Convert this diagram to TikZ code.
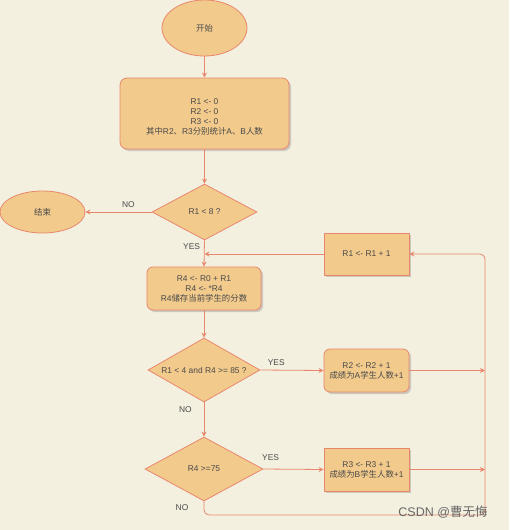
\documentclass[tikz,border=0pt]{standalone}
\usepackage{fontspec}
\setmainfont{Liberation Sans}
\newfontfamily\cjk{Noto Sans CJK SC}
\newcommand{\zh}[1]{{\cjk #1}}
\usetikzlibrary{shapes.geometric,shadows,arrows.meta}
\definecolor{bg}{HTML}{F4F0E0}
\definecolor{fl}{HTML}{F2CA8C}
\definecolor{ln}{HTML}{E8876E}
\definecolor{tx}{HTML}{4A4A4A}
\tikzset{
  base/.style={draw=ln, fill=fl, line width=0.8pt, text=tx, font=\fontsize{8.4}{10}\selectfont, align=center, inner sep=0pt},
  oval/.style={base, ellipse},
  rbox/.style={base, rectangle, rounded corners=7pt, drop shadow={shadow xshift=2pt, shadow yshift=-2pt, opacity=0.35, fill=gray}},
  sbox/.style={base, rectangle, drop shadow={shadow xshift=2pt, shadow yshift=-2pt, opacity=0.35, fill=gray}},
  dia/.style={base, diamond},
  arr/.style={draw=ln, line width=0.8pt, -{Stealth[length=5pt,width=5pt]}},
  lab/.style={text=tx, font=\fontsize{8.4}{10}\selectfont, inner sep=0pt},
}
\begin{document}
\begin{tikzpicture}[x=1pt,y=-1pt]
\fill[bg] (0,0) rectangle (509,530);
\useasboundingbox (0,0) rectangle (509,530);

\node[oval, minimum width=85pt, minimum height=56pt] (start) at (204.5,28) {\zh{开始}};
\node[rbox, minimum width=169pt, minimum height=71pt] (init) at (204.5,113.5) {\\[2pt]R1 <- 0\\R2 <- 0\\R3 <- 0\\\zh{其中}R2\zh{、}R3\zh{分别统计}A\zh{、}B\zh{人数}};
\node[dia, minimum width=105pt, minimum height=56pt, label={[lab]center:R1 < 8 ?}] (d1) at (204.5,212) {};
\node[oval, minimum width=85pt, minimum height=42pt] (end) at (42.5,212) {\zh{结束}};
\node[rbox, rounded corners=6pt, minimum width=114pt, minimum height=43pt] (load) at (204,288.5) {R4 <- R0 + R1\\R4 <- *R4\\R4\zh{储存当前学生的分数}};
\node[sbox, minimum width=85pt, minimum height=42pt] (inc1) at (366.5,254) {R1 <- R1 + 1};
\node[dia, minimum width=112pt, minimum height=64pt, label={[lab]center:R1 < 4 and R4 >= 85 ?}] (d2) at (204,370) {};
\node[rbox, rounded corners=6pt, minimum width=85pt, minimum height=43pt] (inc2) at (366.5,370.5) {R2 <- R2 + 1\\\zh{成绩为}A\zh{学生人数}+1};
\node[dia, minimum width=118pt, minimum height=64pt, label={[lab]center:R4 >=75}] (d3) at (204,469) {};
\node[sbox, minimum width=85pt, minimum height=43pt] (inc3) at (366.5,469.5) {R3 <- R3 + 1\\\zh{成绩为}B\zh{学生人数}+1};

\coordinate (railtop) at (485,254);
\coordinate (railbot) at (485,515);

\draw[arr] (start) -- (init);
\draw[arr] (init) -- (d1);
\draw[arr] (d1.west) -- (end.east) node[lab, pos=0.35, above=4pt] {NO};
\draw[arr] (d1.south) -- (load.north) node[lab, pos=0.25, left=4pt] {YES};
\draw[arr] (inc1.west) -- (inc1.west -| d1.south);
\draw[arr] (load.south) -- (d2.north);
\draw[arr] (d2.east) -- (inc2.west) node[lab, pos=0.25, above=4pt] {YES};
\draw[arr] (d2.south) -- (d3.north) node[lab, pos=0.2, left=12pt] {NO};
\draw[arr] (d3.east) -- (inc3.west) node[lab, pos=0.12, above=8pt] {YES};
\draw[arr] (inc2.east) -- (inc2.east -| railtop);
\draw[arr] (inc3.east) -- (inc3.east -| railtop);
\draw[arr, rounded corners=5pt] (d3.south) |- (railbot) -- (railtop) -- (inc1.east);
\node[lab] (no3) at (182,508) {NO};

\node[text=gray!80!black, font=\fontsize{12.5}{14}\selectfont, inner sep=0pt] (wm) at (443,512) {CSDN @\zh{曹无悔}};
\end{tikzpicture}
\end{document}
